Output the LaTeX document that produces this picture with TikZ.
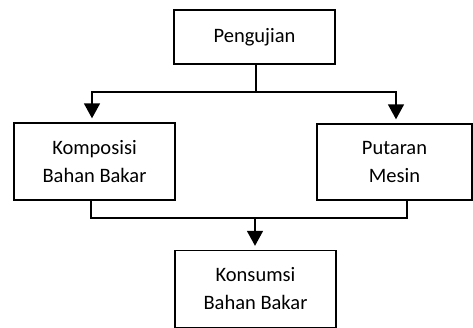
\documentclass[tikz,border=0pt]{standalone}
\usepackage{fontspec}
\setmainfont{Carlito}
\usetikzlibrary{arrows.meta,calc}
\begin{document}
\begin{tikzpicture}[x=1bp,y=-1bp,
  box/.style={draw,line width=1.4bp,inner sep=0pt,align=center,font=\fontsize{20.5bp}{28bp}\selectfont},
  conn/.style={line width=1.6bp},
  arr/.style={conn,-{Triangle[length=15bp,width=16bp]},shorten >=4bp}]
\useasboundingbox (0,0) rectangle (473,327);
\node[box,minimum width=161bp,minimum height=54bp] (P) at (254.5,37) {Pengujian};
\node[box,minimum width=161bp,minimum height=77bp] (K) at (94.5,161.5) {Komposisi\\Bahan Bakar};
\node[box,minimum width=155bp,minimum height=76bp] (M) at (394.5,162) {Putaran\\Mesin};
\node[box,minimum width=161bp,minimum height=77bp] (B) at (255.5,289) {Konsumsi\\Bahan Bakar};
\coordinate (j1) at (256,92);
\coordinate (j2) at (255,218);
\draw[conn] (j1 |- P.south) -- (j1);
\draw[arr] (j1) -| ([xshift=-2.5bp]K.north);
\draw[arr] (j1) -| ([xshift=1.5bp]M.north);
\draw[conn] ([xshift=-3.5bp]K.south) |- (j2) -| ([xshift=12.5bp]M.south);
\draw[arr] (j2) -- (j2 |- B.north);
\end{tikzpicture}
\end{document}
